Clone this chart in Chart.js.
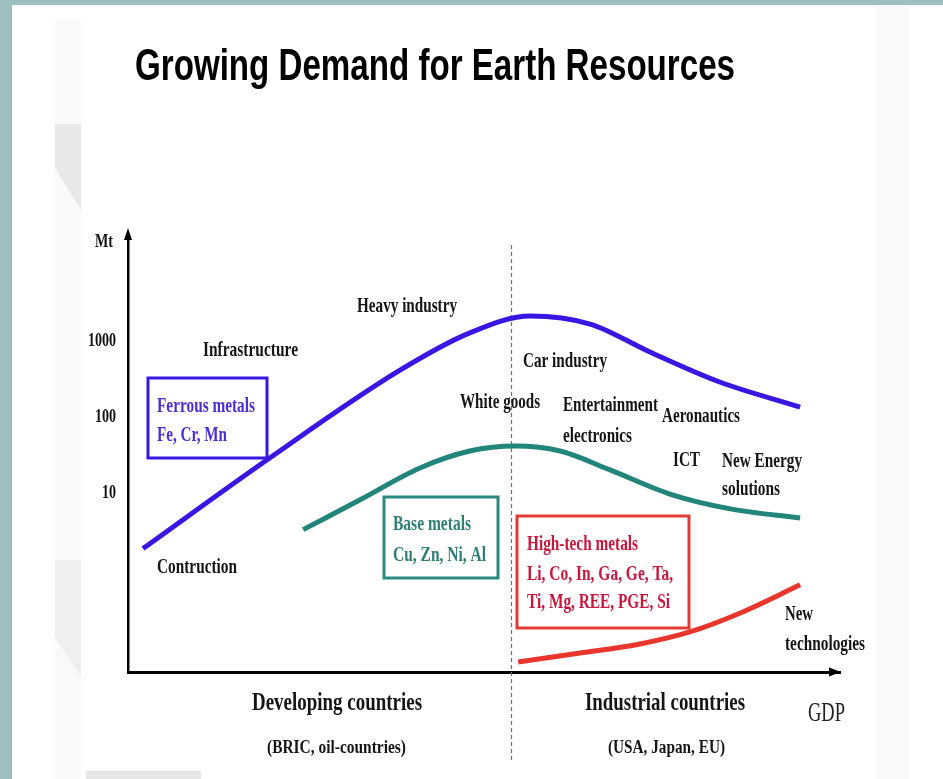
<!DOCTYPE html>
<html>
<head>
<meta charset="utf-8">
<script src="https://cdn.jsdelivr.net/npm/chart.js@4.4.1/dist/chart.umd.min.js"></script>
<style>
  html, body { margin: 0; padding: 0; background: #fff; }
  #wrap { position: relative; width: 943px; height: 779px; }
</style>
</head>
<body>
<div id="wrap"><canvas id="chart"></canvas></div>
<script>
// values (x = GDP, arbitrary 0..100; y = Mt, log scale)
const gdpFerrous = [2.1, 19.9, 38.2, 48.0, 56.5, 64.9, 73.3, 83.1, 94.4];
const mtFerrous = [1.8, 28, 400, 1240, 2070, 1620, 695, 280, 131];
const gdpBase = [24.6, 32.6, 41.0, 48.0, 54.4, 60.7, 67.7, 76.1, 84.6, 94.4];
const mtBase = [3.2, 7.9, 20.7, 34.6, 40.3, 34.6, 19.5, 9.4, 6.0, 4.55];
const gdpHighTech = [54.8, 63.5, 71.9, 78.9, 86.0, 94.4];
const mtHighTech = [0.058, 0.076, 0.1, 0.144, 0.256, 0.6];
const yTickValues = [10, 100, 1000];
const gdpSplit = 53.8; // developing / industrial divide
const yMin = 0.0428, yMax = 23350;

const title = 'Growing Demand for Earth Resources';
const groupNames = ['Developing countries', 'Industrial countries'];
const groupNotes = ['(BRIC, oil-countries)', '(USA, Japan, EU)'];

const BLUE = '#3a16e2', TEAL = '#22857b', RED = '#e8362c';
const SERIF = '"Liberation Serif", "Times New Roman", serif';

// draw text squeezed horizontally to a given width (or scale factor)
function squeeze(ctx, t, x, y, font, color, opt) {
    opt = opt || {};
    ctx.save();
    ctx.font = font;
    ctx.fillStyle = color;
    ctx.textBaseline = 'alphabetic';
    ctx.textAlign = 'left';
    const m = ctx.measureText(t).width;
    const sx = opt.width ? opt.width / m : (opt.sx || 0.75);
    let left = x;
    if (opt.align === 'right') left = x - m * sx;
    if (opt.align === 'center') left = x - m * sx / 2;
    ctx.translate(left, y);
    ctx.scale(sx, 1);
    ctx.fillText(t, 0, 0);
    ctx.restore();
}

// stage labels: [text, left, baseline, width]
const stageLabels = [
    ['Heavy industry', 357, 312, 100],
    ['Infrastructure', 203, 356, 95],
    ['Car industry', 523, 367, 84],
    ['White goods', 460, 408, 80],
    ['Entertainment', 563, 411, 95],
    ['electronics', 563, 442, 69],
    ['Aeronautics', 662, 422, 78],
    ['ICT', 673, 466, 27],
    ['New Energy', 722, 467, 80],
    ['solutions', 722, 495, 58],
    ['Contruction', 157, 573, 80],
    ['New', 785, 620, 28],
    ['technologies', 785, 650, 80]
];

// metal group boxes
const boxes = [
    { rect: [148, 378, 119, 80], stroke: BLUE, color: '#4a2fd4',
      lines: [['Ferrous metals', 157, 412, 98], ['Fe, Cr, Mn', 157, 441, 70]] },
    { rect: [384, 497, 114, 81], stroke: '#2a8a80', color: '#2f7f77',
      lines: [['Base metals', 393, 530, 78], ['Cu, Zn, Ni, Al', 393, 561, 93]] },
    { rect: [517, 516, 172, 112], stroke: '#e23b33', color: '#c8173d',
      lines: [['High-tech metals', 527, 550, 111], ['Li, Co, In, Ga, Ge, Ta,', 527, 580, 146], ['Ti, Mg, REE, PGE, Si', 527, 608, 143]] }
];

const decor = {
    id: 'decor',
    beforeDraw(chart) {
        const ctx = chart.ctx;
        ctx.save();
        ctx.fillStyle = '#fff';
        ctx.fillRect(0, 0, 943, 779);
        ctx.fillStyle = '#f9f9f9';
        ctx.fillRect(55, 20, 26, 759);
        ctx.fillRect(877, 5, 32, 774);
        ctx.fillStyle = '#e9e8e8';
        ctx.beginPath();
        ctx.moveTo(55, 124); ctx.lineTo(81, 124); ctx.lineTo(81, 210); ctx.lineTo(55, 168);
        ctx.closePath(); ctx.fill();
        ctx.fillStyle = '#efefef';
        ctx.beginPath();
        ctx.moveTo(55, 560); ctx.lineTo(81, 560); ctx.lineTo(81, 677); ctx.lineTo(55, 637);
        ctx.closePath(); ctx.fill();
        ctx.fillStyle = '#e6e6e6';
        ctx.fillRect(86, 771, 115, 8);
        ctx.fillStyle = '#9cc0bf';
        ctx.fillRect(0, 0, 943, 5);
        ctx.fillRect(0, 0, 12, 779);
        ctx.restore();
    },
    beforeDatasetsDraw(chart) {
        const ctx = chart.ctx;
        const x = Math.round(chart.scales.x.getPixelForValue(gdpSplit)) + 0.5;
        ctx.save();
        ctx.strokeStyle = '#66717d';
        ctx.lineWidth = 1.2;
        ctx.setLineDash([4, 3]);
        ctx.beginPath();
        ctx.moveTo(x, 245);
        ctx.lineTo(x, 760);
        ctx.stroke();
        ctx.restore();
    },
    afterDraw(chart) {
        const ctx = chart.ctx;
        const ca = chart.chartArea;
        const ys = chart.scales.y;
        ctx.save();
        // axis arrows
        ctx.fillStyle = '#000';
        ctx.beginPath();
        ctx.moveTo(ca.left, ca.top - 8); ctx.lineTo(ca.left - 4, ca.top + 4); ctx.lineTo(ca.left + 4, ca.top + 4);
        ctx.closePath(); ctx.fill();
        ctx.beginPath();
        ctx.moveTo(ca.right + 1, ca.bottom); ctx.lineTo(ca.right - 11, ca.bottom - 4.5); ctx.lineTo(ca.right - 11, ca.bottom + 4.5);
        ctx.closePath(); ctx.fill();

        // y tick labels from the scale's ticks
        ys.ticks.forEach(t => {
            squeeze(ctx, String(t.value), ca.left - 12, ys.getPixelForValue(t.value) + 6,
                'bold 18px ' + SERIF, '#111', { align: 'right', sx: 0.78 });
        });
        squeeze(ctx, 'Mt', 95, 247, 'bold 18px ' + SERIF, '#111', { width: 18 });

        // title
        squeeze(ctx, title, 135, 80, 'bold 44px "Liberation Sans", Arial, sans-serif', '#000', { width: 600 });

        stageLabels.forEach(l => squeeze(ctx, l[0], l[1], l[2], 'bold 21px ' + SERIF, '#151515', { width: l[3] }));

        boxes.forEach(b => {
            ctx.lineWidth = 3;
            ctx.strokeStyle = b.stroke;
            ctx.strokeRect(b.rect[0], b.rect[1], b.rect[2], b.rect[3]);
            b.lines.forEach(l => squeeze(ctx, l[0], l[1], l[2], 'bold 21px ' + SERIF, b.color, { width: l[3] }));
        });

        // group captions under the axis
        squeeze(ctx, groupNames[0], 252, 710, 'bold 26px ' + SERIF, '#151515', { width: 170 });
        squeeze(ctx, groupNames[1], 585, 710, 'bold 26px ' + SERIF, '#151515', { width: 160 });
        squeeze(ctx, groupNotes[0], 267, 753, 'bold 18px ' + SERIF, '#151515', { width: 139 });
        squeeze(ctx, groupNotes[1], 608, 753, 'bold 18px ' + SERIF, '#151515', { width: 117 });
        squeeze(ctx, 'GDP', 808, 721, '27px ' + SERIF, '#222', { width: 37 });
        ctx.restore();
    }
};

function pts(xs, ys) {
    return xs.map((x, i) => ({ x: x, y: ys[i] }));
}

const ctx = document.getElementById('chart').getContext('2d');
new Chart(ctx, {
    type: 'line',
    data: {
        datasets: [
            { label: 'Ferrous metals', data: pts(gdpFerrous, mtFerrous), borderColor: BLUE, borderWidth: 5 },
            { label: 'Base metals', data: pts(gdpBase, mtBase), borderColor: TEAL, borderWidth: 5 },
            { label: 'High-tech metals', data: pts(gdpHighTech, mtHighTech), borderColor: RED, borderWidth: 5 }
        ]
    },
    options: {
        responsive: true,
        maintainAspectRatio: false,
        animation: false,
        layout: { padding: { left: 128, right: 103, top: 236, bottom: 107 } },
        elements: {
            point: { radius: 0 },
            line: { cubicInterpolationMode: 'monotone', borderCapStyle: 'butt', fill: false }
        },
        plugins: {
            legend: { display: false },
            tooltip: { enabled: false },
            title: { display: false }
        },
        scales: {
            x: {
                type: 'linear',
                min: 0,
                max: 100,
                grid: { display: false, drawTicks: false },
                ticks: { display: false },
                border: { display: true, color: '#000', width: 3 },
                afterFit: (scale) => { scale.height = 0; }
            },
            y: {
                type: 'logarithmic',
                min: yMin,
                max: yMax,
                grid: { display: false, drawTicks: false },
                ticks: { display: false },
                border: { display: true, color: '#000', width: 2.5 },
                afterBuildTicks: (scale) => { scale.ticks = yTickValues.map(v => ({ value: v })); },
                afterFit: (scale) => { scale.width = 0; }
            }
        }
    },
    plugins: [decor]
});
</script>
</body>
</html>
